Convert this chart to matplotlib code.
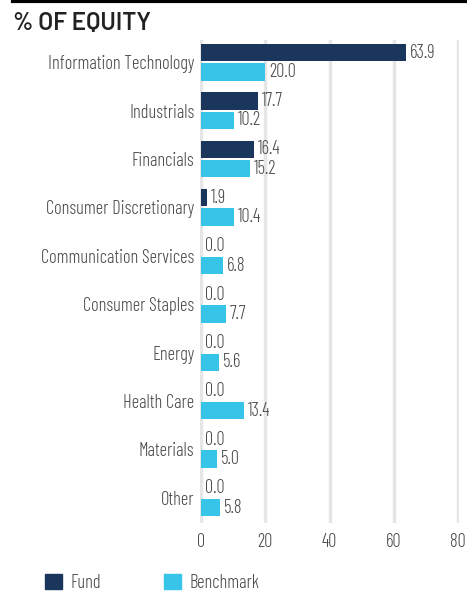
import matplotlib
matplotlib.use("Agg")
import matplotlib.pyplot as plt
from matplotlib.lines import Line2D
from matplotlib.patches import Patch
import numpy as np

categories = ["Information Technology", "Industrials", "Financials",
              "Consumer Discretionary", "Communication Services",
              "Consumer Staples", "Energy", "Health Care", "Materials", "Other"]
fund = [63.9, 17.7, 16.4, 1.9, 0.0, 0.0, 0.0, 0.0, 0.0, 0.0]
benchmark = [20.0, 10.2, 15.2, 10.4, 6.8, 7.7, 5.6, 13.4, 5.0, 5.8]
xticks = [0, 20, 40, 60, 80]

FUND_C = "#1b365d"
BENCH_C = "#36c5e8"
TEXT_C = "#4a4a4a"
NARROW = ["Barlow Condensed", "DejaVu Sans"]
FS = 13.3
W = 300

fig = plt.figure(figsize=(4.67, 5.94), dpi=100)
ax = fig.add_axes([200 / 467, 1 - 523 / 594, 259 / 467, 483 / 594])

y = np.arange(len(categories))
h = 0.36
ax.barh(y - 0.2, fund, height=h, color=FUND_C, zorder=3)
ax.barh(y + 0.2, benchmark, height=h, color=BENCH_C, zorder=3)

for i in range(len(categories)):
    ax.text(fund[i] + 1.2, y[i] - 0.2, f"{fund[i]:.1f}", va="center", ha="left",
            fontsize=FS, color=TEXT_C, family=NARROW, weight=W)
    ax.text(benchmark[i] + 1.2, y[i] + 0.2, f"{benchmark[i]:.1f}", va="center", ha="left",
            fontsize=FS, color=TEXT_C, family=NARROW, weight=W)

ax.set_ylim(len(categories) - 0.48, -0.46)
ax.set_xlim(-0.3, 80.3)
ax.set_yticks(y)
ax.set_yticklabels(categories, family=NARROW, fontsize=FS, color=TEXT_C, weight=W)
ax.set_xticks(xticks)
ax.set_xticklabels([str(t) for t in xticks], family=NARROW, fontsize=FS, color=TEXT_C, weight=W)
ax.tick_params(length=0, pad=4)
ax.tick_params(axis="x", pad=7)
for s in ax.spines.values():
    s.set_visible(False)
ax.grid(axis="x", color="#e6e6e6", linewidth=2.5, zorder=0)
ax.set_axisbelow(True)

fig.text(13 / 467, 1 - 23.5 / 594, "% OF EQUITY", fontsize=17.5, fontweight=600,
         color="#222222", va="center", ha="left", family=["Barlow", "DejaVu Sans"])
fig.add_artist(Line2D([13 / 467, 1], [1 - 1 / 594, 1 - 1 / 594], color="black",
                      linewidth=3, transform=fig.transFigure))

handles = [Patch(color=FUND_C, label="Fund"), Patch(color=BENCH_C, label="Benchmark")]
fig.legend(handles=handles, loc="center left", bbox_to_anchor=(45 / 467, 1 - 583 / 594), ncol=2,
           frameon=False, prop={"family": NARROW, "size": FS, "weight": W}, labelcolor=TEXT_C,
           handlelength=0.92, handleheight=0.92, columnspacing=3.4, handletextpad=0.45,
           borderpad=0, borderaxespad=0)

fig.savefig("out.png", dpi=100)
